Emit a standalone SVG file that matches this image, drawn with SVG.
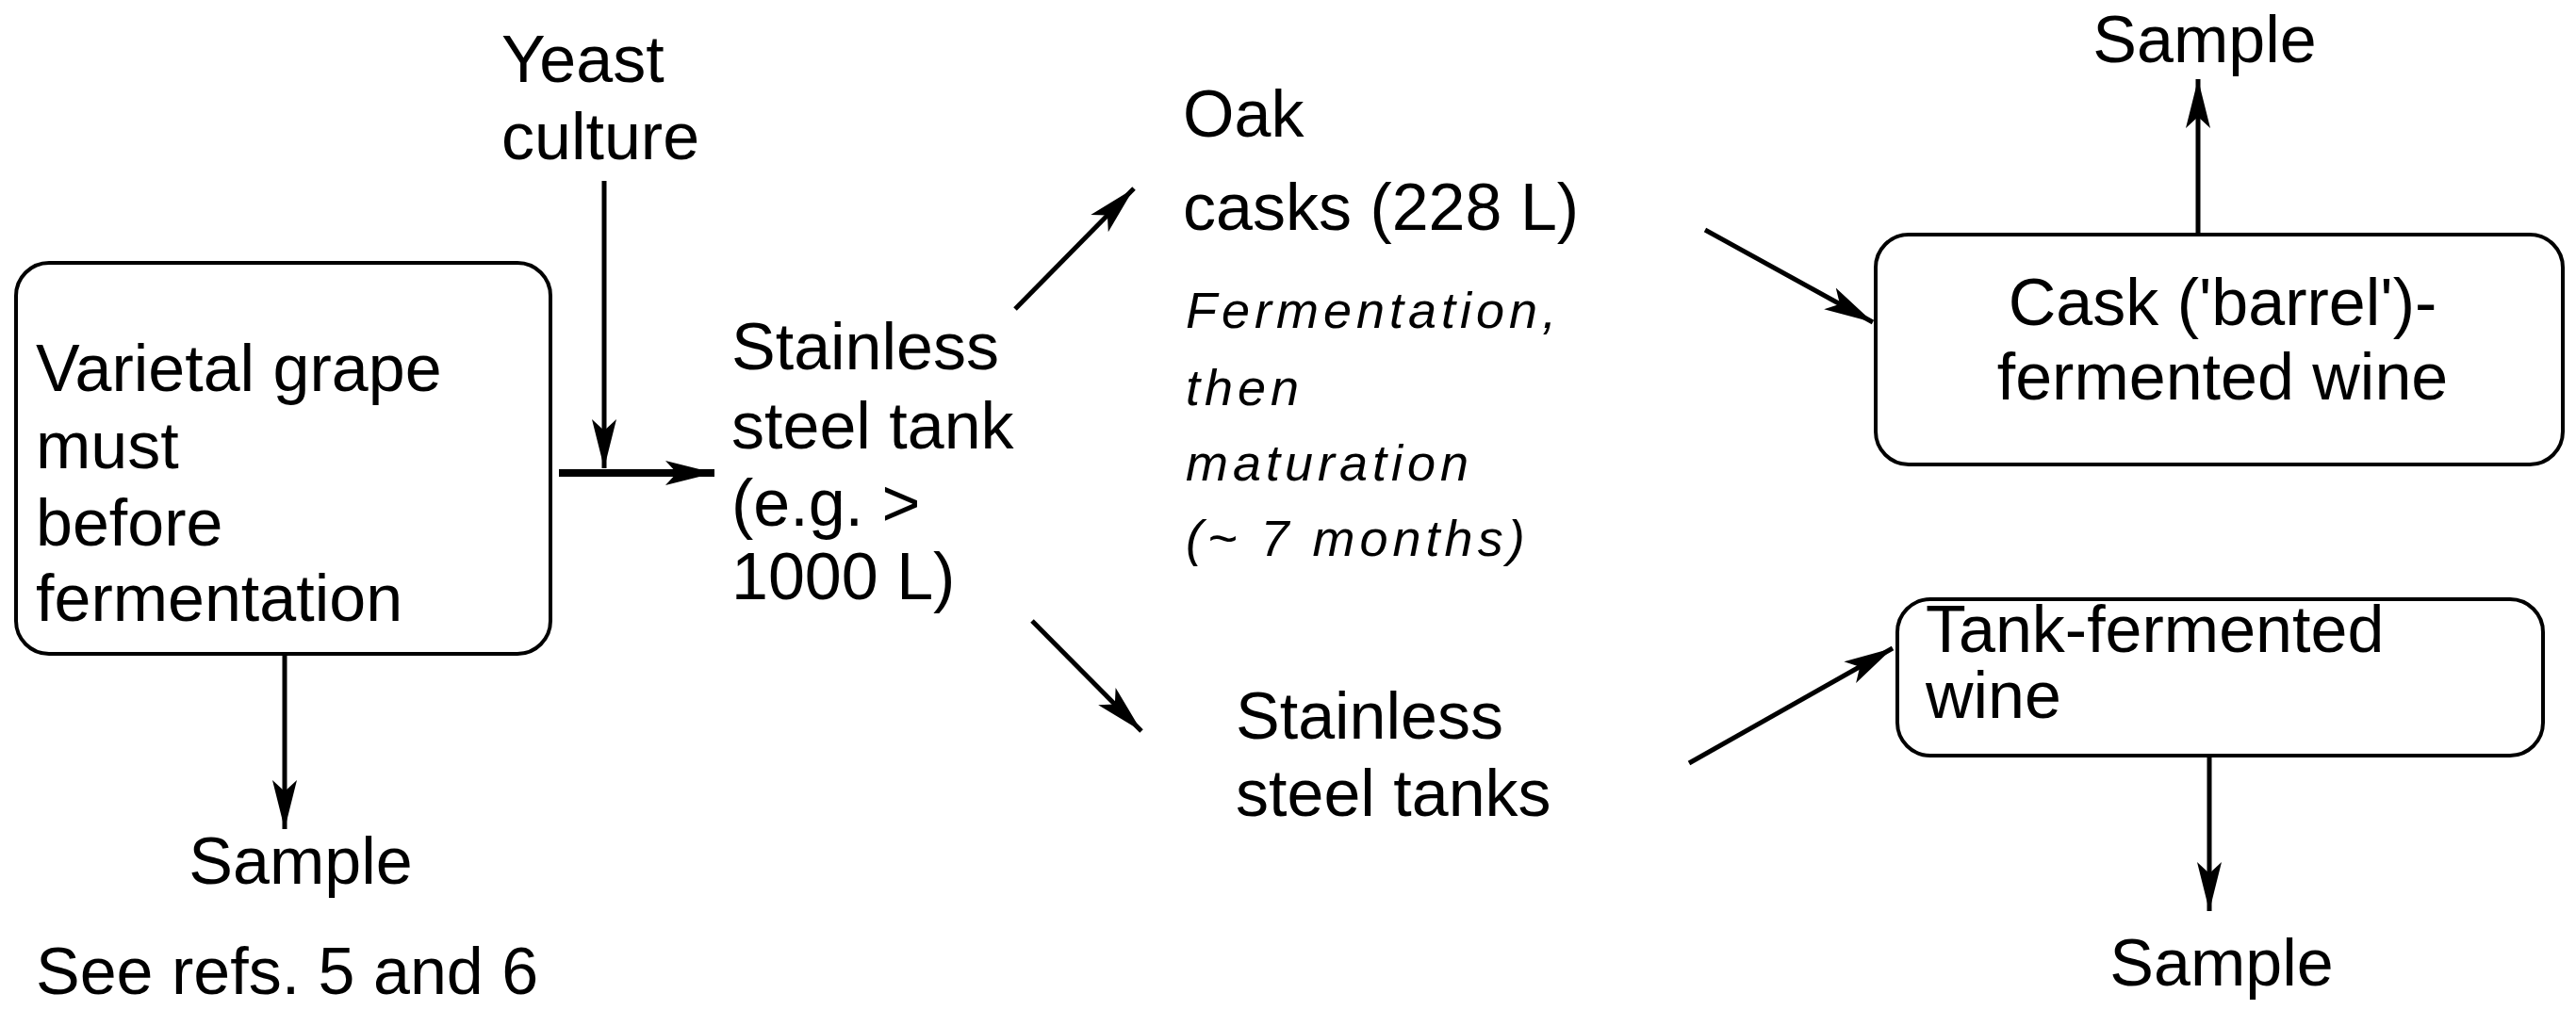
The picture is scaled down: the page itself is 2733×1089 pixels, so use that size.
<svg xmlns="http://www.w3.org/2000/svg" width="2733" height="1089" viewBox="0 0 2733 1089">
<style>
text{font-family:"Liberation Sans",Arial,sans-serif;font-size:70px;fill:#000}
.it{font-style:italic;font-size:54px;letter-spacing:5px}
.box{fill:#fff;stroke:#000;stroke-width:4}
.c{stroke:#000;stroke-width:5;fill:none;marker-end:url(#ah)}
</style>
<defs>
<marker id="ah" markerUnits="userSpaceOnUse" markerWidth="54" markerHeight="30" refX="52" refY="15" orient="auto">
<path d="M0,2 L52,15 L0,28 L12,15 Z" fill="#000"/>
</marker>
</defs>
<rect width="2733" height="1089" fill="#fff"/>
<g id="must"><rect class="box" x="17" y="279" width="567" height="415" rx="35"/>
<text x="38" y="415">Varietal grape</text><text x="38" y="497">must</text><text x="38" y="579">before</text><text x="38" y="659">fermentation</text></g>
<g id="yeast"><text x="532" y="87">Yeast</text><text x="532" y="169">culture</text></g>
<g id="tank"><text x="776" y="392">Stainless</text><text x="776" y="476">steel tank</text><text x="776" y="558">(e.g. &gt;</text><text x="776" y="636">1000 L)</text></g>
<g id="oak"><text x="1255" y="145">Oak</text><text x="1255" y="244">casks (228 L)</text></g>
<g id="note"><text class="it" x="1258" y="348">Fermentation,</text><text class="it" x="1258" y="430">then</text><text class="it" x="1258" y="510">maturation</text><text class="it" x="1258" y="590">(~ 7 months)</text></g>
<g id="tanks"><text x="1311" y="784">Stainless</text><text x="1311" y="866">steel tanks</text></g>
<g id="cask"><rect class="box" x="1990" y="249" width="729" height="244" rx="35"/>
<text x="2358" y="345" text-anchor="middle">Cask ('barrel')-</text><text x="2358" y="424" text-anchor="middle">fermented wine</text></g>
<g id="tankwine"><rect class="box" x="2013" y="636" width="685" height="166" rx="35"/>
<text x="2043" y="692">Tank-fermented</text><text x="2043" y="762">wine</text></g>
<g id="s1"><text x="319" y="938" text-anchor="middle">Sample</text></g>
<g id="refs"><text x="38" y="1055">See refs. 5 and 6</text></g>
<g id="s2"><text x="2339" y="66" text-anchor="middle">Sample</text></g>
<g id="s3"><text x="2357" y="1046" text-anchor="middle">Sample</text></g>
<g id="connectors">
<path class="c" d="M641,192 L641,497"/>
<path class="c" style="stroke-width:8" d="M593,502 L758,502"/>
<path class="c" d="M1077,328 L1203,200"/>
<path class="c" d="M1095,659 L1211,776"/>
<path class="c" d="M1809,244 L1987,342"/>
<path class="c" d="M2332,249 L2332,84"/>
<path class="c" d="M1792,810 L2008,688"/>
<path class="c" d="M2344,802 L2344,967"/>
<path class="c" d="M302,694 L302,880"/>
</g>
</svg>
